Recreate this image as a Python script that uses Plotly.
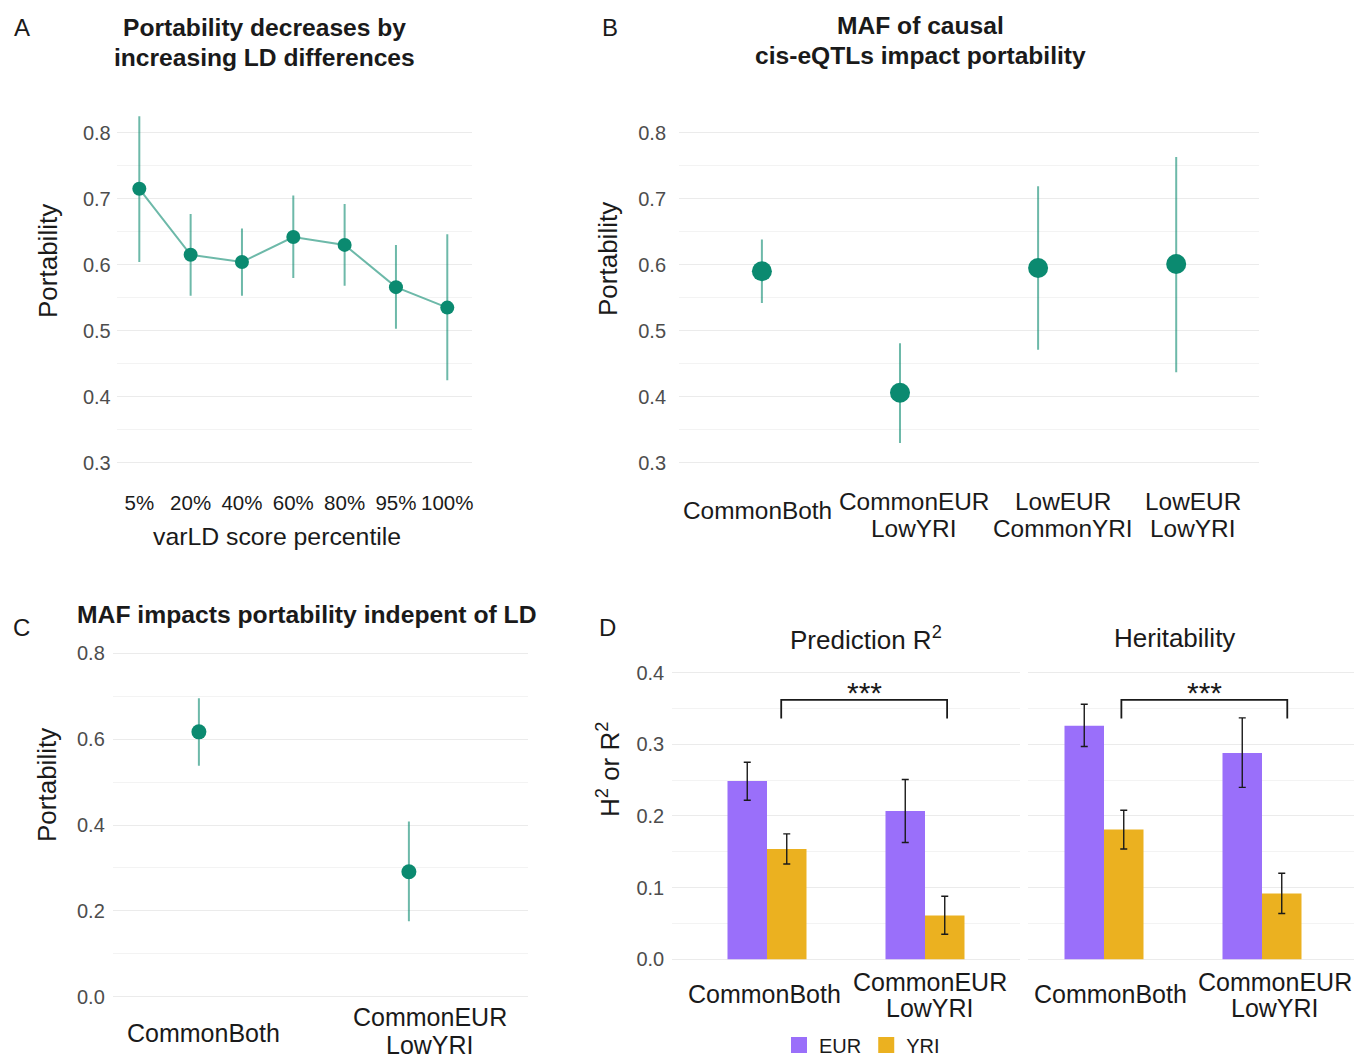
import plotly.graph_objects as go

W, H = 1354, 1055
FONT = "Liberation Sans, Arial, sans-serif"

# ---------------- data ----------------
# Panel A
a_cats = ["5%", "20%", "40%", "60%", "80%", "95%", "100%"]
a_val = [0.715, 0.615, 0.604, 0.642, 0.630, 0.566, 0.535]
a_lo = [0.604, 0.553, 0.553, 0.580, 0.568, 0.503, 0.425]
a_hi = [0.825, 0.677, 0.655, 0.705, 0.692, 0.630, 0.646]

# Panel B
b_cats = ["CommonBoth", "CommonEUR<br>LowYRI", "LowEUR<br>CommonYRI", "LowEUR<br>LowYRI"]
b_val = [0.590, 0.406, 0.595, 0.601]
b_lo = [0.542, 0.330, 0.471, 0.437]
b_hi = [0.638, 0.481, 0.719, 0.763]

# Panel C
c_cats = ["CommonBoth", "CommonEUR<br>LowYRI"]
c_val = [0.617, 0.291]
c_lo = [0.538, 0.176]
c_hi = [0.695, 0.408]

# Panel D
d_cats = ["CommonBoth", "CommonEUR<br>LowYRI"]
d_facets = ["Prediction R<sup>2</sup>", "Heritability"]
d_eur_val = [[0.249, 0.207], [0.326, 0.288]]
d_eur_lo = [[0.222, 0.163], [0.297, 0.240]]
d_eur_hi = [[0.275, 0.251], [0.356, 0.337]]
d_yri_val = [[0.154, 0.061], [0.181, 0.092]]
d_yri_lo = [[0.133, 0.035], [0.154, 0.064]]
d_yri_hi = [[0.175, 0.088], [0.208, 0.120]]
d_bracket_x = [[0.09, 1.14], [0.11, 1.16]]
d_bracket_low = [0.336, 0.336]
d_bracket_high = [0.362, 0.362]
d_sig_label = ["***", "***"]
d_sig_y = [0.372, 0.372]

# ---------------- styles ----------------
TEAL = "#0b8a70"
TEAL_LIGHT = "rgba(11,138,112,0.6)"
EUR_COL = "#9a6ffa"
YRI_COL = "#ebb120"
GRID = "#ebebeb"
GRID_MINOR = "#f3f3f3"
TICK_GREY = "#4d4d4d"

# horizontal nudges of category labels (in category units), as in the original layout
B_LABEL_SHIFT = [-0.035, 0.10, 0.18, 0.12]
C_LABEL_SHIFT = [0.024, 0.10]
D_LABEL_SHIFT = [[-0.015, 0.03], [0.04, 0.08]]


def fx(px):
    return px / W


def fy(py):
    return 1 - py / H


def xdom(p0, step, r0, r1):
    return [(p0 + r0 * step) / W, (p0 + r1 * step) / W]


def ydom(vA, pA, vB, pB, r0, r1):
    s = (pB - pA) / (vB - vA)
    pr0 = pA + (r0 - vA) * s
    pr1 = pA + (r1 - vA) * s
    return [1 - pr0 / H, 1 - pr1 / H]


fig = go.Figure()

# ---------------- Panel A ----------------
ax = list(range(len(a_cats)))
fig.add_trace(go.Scatter(x=ax, y=a_val, mode="lines", line=dict(color=TEAL_LIGHT, width=2),
                         xaxis="x", yaxis="y", showlegend=False, hoverinfo="skip"))
fig.add_trace(go.Scatter(
    x=ax, y=a_val, mode="markers", marker=dict(color=TEAL, size=14),
    error_y=dict(type="data", symmetric=False,
                 array=[h - v for h, v in zip(a_hi, a_val)],
                 arrayminus=[v - l for v, l in zip(a_val, a_lo)],
                 color=TEAL_LIGHT, thickness=2, width=0),
    xaxis="x", yaxis="y", showlegend=False))

# ---------------- Panel B ----------------
bx = list(range(len(b_cats)))
fig.add_trace(go.Scatter(
    x=bx, y=b_val, mode="markers", marker=dict(color=TEAL, size=20),
    error_y=dict(type="data", symmetric=False,
                 array=[h - v for h, v in zip(b_hi, b_val)],
                 arrayminus=[v - l for v, l in zip(b_val, b_lo)],
                 color=TEAL_LIGHT, thickness=2, width=0),
    xaxis="x2", yaxis="y2", showlegend=False))

# ---------------- Panel C ----------------
cx = list(range(len(c_cats)))
fig.add_trace(go.Scatter(
    x=cx, y=c_val, mode="markers", marker=dict(color=TEAL, size=15),
    error_y=dict(type="data", symmetric=False,
                 array=[h - v for h, v in zip(c_hi, c_val)],
                 arrayminus=[v - l for v, l in zip(c_val, c_lo)],
                 color=TEAL_LIGHT, thickness=2, width=0),
    xaxis="x3", yaxis="y3", showlegend=False))

# ---------------- Panel D ----------------
dx = list(range(len(d_cats)))
d_axes = [("x4", "y4"), ("x5", "y5")]
for fi, (xa, ya) in enumerate(d_axes):
    for name, vals, los, his, col in [
        ("EUR", d_eur_val[fi], d_eur_lo[fi], d_eur_hi[fi], EUR_COL),
        ("YRI", d_yri_val[fi], d_yri_lo[fi], d_yri_hi[fi], YRI_COL),
    ]:
        fig.add_trace(go.Bar(
            x=dx, y=vals, name=name, offsetgroup=name, marker=dict(color=col, line=dict(width=0)),
            error_y=dict(type="data", symmetric=False,
                         array=[h - v for h, v in zip(his, vals)],
                         arrayminus=[v - l for v, l in zip(vals, los)],
                         color="#1a1a1a", thickness=1.4, width=3.5),
            xaxis=xa, yaxis=ya, showlegend=False))
    bxl, bxr = d_bracket_x[fi]
    fig.add_trace(go.Scatter(
        x=[bxl, bxl, bxr, bxr],
        y=[d_bracket_low[fi], d_bracket_high[fi], d_bracket_high[fi], d_bracket_low[fi]],
        mode="lines", line=dict(color="#1a1a1a", width=1.8),
        xaxis=xa, yaxis=ya, showlegend=False, hoverinfo="skip"))

# legend entries
for name, col in [("EUR", EUR_COL), ("YRI", YRI_COL)]:
    fig.add_trace(go.Scatter(x=[None], y=[None], mode="markers", name=name,
                             marker=dict(symbol="square", size=18, color=col),
                             xaxis="x4", yaxis="y4", showlegend=True))

# ---------------- axes ----------------
def yaxis_style(dom, rng, dtick, minor_dtick, standoff):
    return dict(domain=dom, range=rng, dtick=dtick, tickformat=".1f",
                showgrid=True, gridcolor=GRID, gridwidth=1.1,
                zeroline=False, showline=False, ticks="",
                tickfont=dict(family=FONT, size=20, color=TICK_GREY),
                ticklabelstandoff=standoff,
                minor=dict(showgrid=True, gridcolor=GRID_MINOR, gridwidth=0.8, dtick=minor_dtick),
                fixedrange=True)


def xaxis_style(dom, rng, anchor, show_labels=False, tickvals=None, ticktext=None):
    d = dict(domain=dom, range=rng, anchor=anchor, showgrid=False, zeroline=False,
             showline=False, ticks="", fixedrange=True)
    if show_labels:
        d.update(tickmode="array", tickvals=tickvals, ticktext=ticktext,
                 tickfont=dict(family=FONT, size=20.5, color="#1a1a1a"), ticklabelstandoff=6)
    else:
        d.update(showticklabels=False)
    return d


a_yr = [0.27, 0.84]
c_yr = [-0.03, 0.83]
d_yr = [-0.01, 0.41]

layout = dict(
    width=W, height=H, margin=dict(l=0, r=0, t=0, b=0, autoexpand=False),
    paper_bgcolor="white", plot_bgcolor="white",
    font=dict(family=FONT, color="#1a1a1a"),
    barmode="group", bargap=0.5, bargroupgap=0,
    xaxis=xaxis_style(xdom(139.3, 51.33, -0.44, 6.475), [-0.44, 6.475], "y", True, ax, a_cats),
    yaxis=yaxis_style(ydom(0.8, 132.7, 0.3, 462.7, *a_yr), a_yr, 0.1, 0.05, 5),
    xaxis2=xaxis_style(xdom(761.9, 138.1, -0.6, 3.6), [-0.6, 3.6], "y2"),
    yaxis2=dict(yaxis_style(ydom(0.8, 132.7, 0.3, 462.7, *a_yr), a_yr, 0.1, 0.05, 12), anchor="x2"),
    xaxis3=xaxis_style(xdom(198.9, 210, -0.41, 1.567), [-0.41, 1.567], "y3"),
    yaxis3=dict(yaxis_style(ydom(0.8, 653.3, 0.0, 996.7, *c_yr), c_yr, 0.2, 0.1, 7), anchor="x3"),
    xaxis4=xaxis_style(xdom(767, 158, -0.6, 1.6), [-0.6, 1.6], "y4"),
    yaxis4=dict(yaxis_style(ydom(0.4, 672.7, 0.0, 959.3, *d_yr), d_yr, 0.1, 0.05, 7), anchor="x4"),
    xaxis5=xaxis_style(xdom(1104, 158, -0.48, 1.58), [-0.48, 1.58], "y5"),
    yaxis5=dict(yaxis_style(ydom(0.4, 672.7, 0.0, 959.3, *d_yr), d_yr, 0.1, 0.05, 7),
                anchor="x5", showticklabels=False),
    showlegend=True,
    legend=dict(orientation="h", x=fx(779), y=fy(1045), xanchor="left", yanchor="middle",
                font=dict(family=FONT, size=20, color="#1a1a1a"), itemsizing="trace",
                bgcolor="rgba(0,0,0,0)", borderwidth=0, tracegroupgap=0, itemwidth=30),
)
fig.update_layout(**layout)

# ---------------- annotations ----------------
ann = []


def text(x, y, s, size, bold=False, xanchor="center", yanchor="middle", angle=0,
         xref="paper", color="#1a1a1a"):
    ann.append(dict(x=x, y=y, xref=xref, yref="paper", text=("<b>%s</b>" % s) if bold else s,
                    showarrow=False, xanchor=xanchor, yanchor=yanchor, textangle=angle,
                    font=dict(family=FONT, size=size, color=color), align="center"))


def lines(x, ys, s, size, **kw):
    parts = s.split("<br>")
    if len(parts) == 1:
        text(x, fy(ys[0]), parts[0], size, **kw)
    else:
        for p, yy in zip(parts, ys[1:]):
            text(x, fy(yy), p, size, **kw)


# panel letters
text(fx(22), fy(27), "A", 24)
text(fx(610), fy(27), "B", 24)
text(fx(22), fy(627), "C", 24)
text(fx(607), fy(627), "D", 24)

# titles
lines(fx(264), [0, 27, 57], "Portability decreases by<br>increasing LD differences", 24.6, bold=True)
lines(fx(920), [0, 25, 56], "MAF of causal<br>cis-eQTLs impact portability", 24.6, bold=True)
text(fx(75), fy(614), "MAF impacts portability indepent of LD", 24.7, bold=True, xanchor="left")
text(fx(866), fy(638), d_facets[0], 26)
text(fx(1174), fy(638), d_facets[1], 26)

# axis titles
text(fx(48), fy(261), "Portability", 26, angle=-90)
text(fx(608), fy(259), "Portability", 26, angle=-90)
text(fx(47), fy(785), "Portability", 26, angle=-90)
text(fx(608), fy(770), "H<sup>2</sup> or R<sup>2</sup>", 26, angle=-90)
text(fx(277), fy(536), "varLD score percentile", 24.8)

# category labels (single-line y, two-line y1, y2)
for i, c in enumerate(b_cats):
    lines(i + B_LABEL_SHIFT[i], [510, 501, 528], c, 24.4, xref="x2")
for i, c in enumerate(c_cats):
    lines(i + C_LABEL_SHIFT[i], [1033, 1017, 1045], c, 25, xref="x3")
for fi, xa in enumerate(["x4", "x5"]):
    for i, c in enumerate(d_cats):
        lines(i + D_LABEL_SHIFT[fi][i], [994, 982, 1008], c, 25, xref=xa)

# significance stars
for fi, (xa, ya) in enumerate(d_axes):
    xl, xr = d_bracket_x[fi]
    ann.append(dict(x=(xl + xr) / 2, y=d_sig_y[fi], xref=xa, yref=ya, text=d_sig_label[fi],
                    showarrow=False, xanchor="center", yanchor="middle",
                    font=dict(family=FONT, size=30, color="#1a1a1a")))

fig.update_layout(annotations=ann)

fig.write_html("out.html", config={"displayModeBar": False},
               post_script="document.body.style.margin='0px';document.body.style.padding='0px';")
